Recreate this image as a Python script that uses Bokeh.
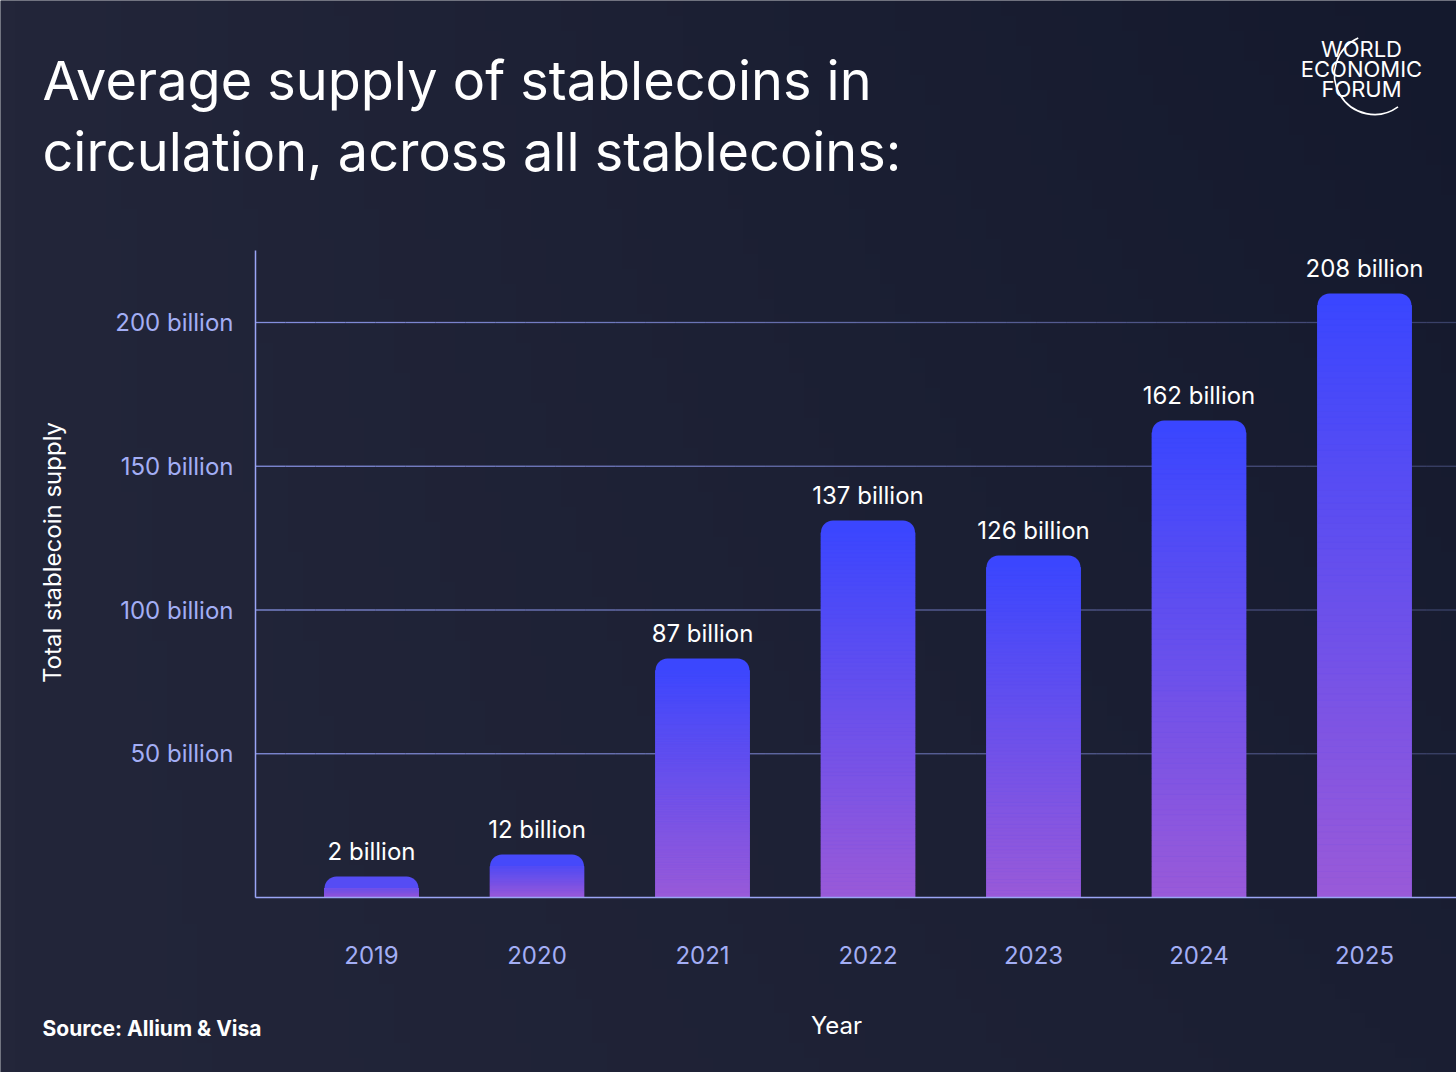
import numpy as np
from bokeh.plotting import figure
from bokeh.models import Range1d, FixedTicker, Label
from bokeh.embed import file_html
from bokeh.resources import INLINE
from bokeh.core.properties import value

# ---------------- data ----------------
years = [2019, 2020, 2021, 2022, 2023, 2024, 2025]
bar_heights = [7.3, 15.0, 83.1, 131.1, 119.0, 165.9, 210.1]   # billions, as drawn
labelled_values = [2, 12, 87, 137, 126, 162, 208]              # billions, as printed
y_ticks = [50, 100, 150, 200]
y_tick_labels = ["50 billion", "100 billion", "150 billion", "200 billion"]
x_tick_labels = ["2019", "2020", "2021", "2022", "2023", "2024", "2025"]
title_lines = ["Average supply of stablecoins in", "circulation, across all stablecoins:"]
y_title = "Total stablecoin supply"
x_title = "Year"
source_text = "Source: Allium & Visa"
logo_lines = ["WORLD", "ECONOMIC", "FORUM"]

# ---------------- style / layout ----------------
BG_L = np.array([0x23, 0x26, 0x3a])
BG_R = np.array([0x14, 0x19, 0x2d])
TICK_COL = "#a3aef5"
AXIS_COL = "#9aa5f5"
GRID_COL = "#8f9af0"
TOP_COL = np.array([0x39, 0x46, 0xff])
BOT_COL = np.array([0x9a, 0x5a, 0xd8])
FONT = "Inter"

W, H = 1456, 1072
AXIS_X_PX, AXIS_Y_PX = 255, 897          # where the axes cross, in canvas pixels
PX_PER_YEAR = 165.5
PX_PER_B = 2.875
FIRST_BAR_PX = 371


def xd(xp):
    return years[0] + (xp - FIRST_BAR_PX) / PX_PER_YEAR


def yd(yp):
    return (AXIS_Y_PX - yp) / PX_PER_B


x_start, x_end = xd(0), xd(W)
y_start, y_end = yd(H), yd(0)

p = figure(width=W, height=H, title=None,
           x_range=Range1d(x_start, x_end), y_range=Range1d(y_start, y_end),
           output_backend="svg", toolbar_location=None,
           min_border_left=0, min_border_right=0, min_border_top=0, min_border_bottom=0,
           background_fill_color="#1f2236", border_fill_color="#1f2236",
           outline_line_color=None)

# background gradient
nx, ny = 96, 72
u = np.linspace(0, 1, nx)[None, :]
v = np.linspace(1, 0, ny)[:, None]          # row 0 = bottom of canvas
dark = np.clip(u * (1 - 0.45 * v), 0, 1)
img = np.zeros((ny, nx), dtype=np.uint32)
view = img.view(dtype=np.uint8).reshape((ny, nx, 4))
for k in range(3):
    view[:, :, k] = (BG_L[k] + (BG_R[k] - BG_L[k]) * dark).astype(np.uint8)
view[:, :, 3] = 255
p.image_rgba(image=[img], x=x_start, y=y_start, dw=x_end - x_start, dh=y_end - y_start)

# axes (drawn inside the canvas-wide frame)
p.yaxis.ticker = FixedTicker(ticks=y_ticks)
p.yaxis.major_label_overrides = dict(zip(y_ticks, y_tick_labels))
p.yaxis.fixed_location = xd(AXIS_X_PX)
p.yaxis.bounds = (0, yd(250))
p.xaxis.ticker = FixedTicker(ticks=years)
p.xaxis.major_label_overrides = dict(zip(years, x_tick_labels))
p.xaxis.fixed_location = 0
p.xaxis.bounds = (xd(AXIS_X_PX), x_end)
for ax in (p.xaxis, p.yaxis):
    ax.axis_line_color = AXIS_COL
    ax.axis_line_width = 1.5
    ax.major_tick_line_color = None
    ax.minor_tick_line_color = None
    ax.major_label_text_color = TICK_COL
    ax.major_label_text_font = FONT
    ax.major_label_text_font_size = "24px"
p.yaxis.major_label_standoff = 16
p.xaxis.major_label_standoff = 42
p.xgrid.grid_line_color = None
p.ygrid.grid_line_color = None

# grid lines fading to the right
nseg = 40
gx = np.linspace(xd(AXIS_X_PX), x_end, nseg + 1)
sx0, sx1, sy, sa = [], [], [], []
for t in y_ticks:
    for i in range(nseg):
        sx0.append(gx[i]); sx1.append(gx[i + 1]); sy.append(t)
        sa.append(0.9 - 0.6 * (i / (nseg - 1)))
p.segment(x0=sx0, y0=sy, x1=sx1, y1=sy, line_color=GRID_COL, line_alpha=sa, line_width=1.3)

# bars: rounded base bar + gradient slices
bw = 94 / PX_PER_YEAR
radius_px = 12
r_data = radius_px / PX_PER_B


def mix(f):
    c = BOT_COL + (TOP_COL - BOT_COL) * f
    return "#%02x%02x%02x" % tuple(int(round(v)) for v in c)


top_cols = [mix(min(1.0, (h - r_data / 2) / h)) for h in bar_heights]
p.vbar(x=years, bottom=0, top=bar_heights, width=bw, fill_color=top_cols,
       line_color=None, border_radius=(radius_px, radius_px, 0, 0))

n = 90
L, R, B, T, C = [], [], [], [], []
for yr, h in zip(years, bar_heights):
    edges = np.linspace(0, h - r_data, n + 1)
    for i in range(n):
        L.append(yr - bw / 2)
        R.append(yr + bw / 2)
        B.append(edges[i])
        T.append(edges[i + 1])
        C.append(mix(((edges[i] + edges[i + 1]) / 2) / h))
p.quad(left=L, right=R, bottom=B, top=T, fill_color=C, line_color=C, line_width=0.8)

# value labels
p.text(x=years, y=bar_heights, text=[f"{v} billion" for v in labelled_values],
       text_align="center", text_baseline="alphabetic", y_offset=-25,
       text_color="white", text_font=value(FONT), text_font_size="24px")


def label(text, xp, yp, size, align="left", bold=False, angle=0.0, baseline="alphabetic",
          shift=0.4):
    # yp is the wanted baseline (canvas px); shift compensates the renderer's baseline offset
    yy = yp - shift * size if baseline == "alphabetic" else yp
    p.add_layout(Label(x=xd(xp), y=yd(yy), text=text, text_font=FONT,
                       text_font_size=f"{size}px", text_color="white",
                       text_font_style="bold" if bold else "normal",
                       text_align=align, text_baseline=baseline, angle=angle))


# title
for line, yb in zip(title_lines, [102, 173]):
    label(line, 42, yb, 54)

# axis titles
label(y_title, 52, 552, 24, align="center", angle=np.pi / 2, baseline="middle")
label(x_title, 836, 1035, 24, align="center")

# source
label(source_text, 42, 1036, 21, bold=True)

# logo
for line, yb in zip(logo_lines, [57, 77, 97]):
    label(line, 1361, yb, 22, align="center")
p.arc(x=[xd(1374)], y=[yd(74)], radius=40, radius_units="screen",
      start_angle=np.deg2rad(114), end_angle=np.deg2rad(306),
      direction="anticlock", line_color="white", line_width=1.6)

open("out.html", "w").write(file_html(p, INLINE))
